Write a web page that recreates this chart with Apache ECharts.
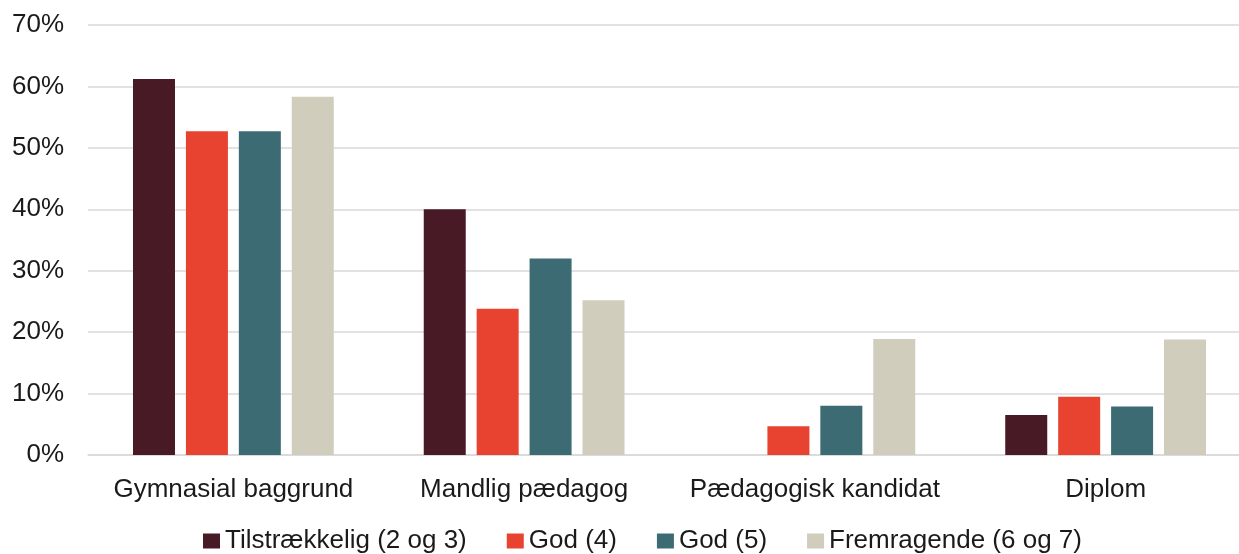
<!DOCTYPE html>
<html>
<head>
<meta charset="utf-8">
<script src="https://cdn.jsdelivr.net/npm/echarts@6/dist/echarts.min.js"></script>
<style>
html,body{margin:0;padding:0;background:#fff;overflow:hidden;}
/* plotområdet fortsætter lidt ud over højre kant som i originalen */
#chart1{width:1251px;height:554px;}
</style>
</head>
<body>
<div id="chart1"></div>
<script>
// kategorier og værdier (%)
var categories = ['Gymnasial baggrund', 'Mandlig pædagog', 'Pædagogisk kandidat', 'Diplom'];
var tilstraekkelig = [61.2, 40.0, 0, 6.5];
var god4 = [52.7, 23.8, 4.7, 9.5];
var god5 = [52.7, 32.0, 8.0, 7.9];
var fremragende = [58.3, 25.2, 18.9, 18.8];
var seriesNames = ['Tilstrækkelig (2 og 3)', 'God (4)', 'God (5)', 'Fremragende (6 og 7)'];
var colors = ['#471a26', '#e84330', '#3d6b74', '#d0cdbd'];

var chart = echarts.init(document.getElementById('chart1'));
var font = 'Liberation Sans, Arial, sans-serif';
var data = [tilstraekkelig, god4, god5, fremragende];

var option = {
    animation: false,
    color: colors,
    textStyle: { fontFamily: font },
    grid: { left: 88, right: 0, top: 25, bottom: 99 },
    legend: {
        top: 523,
        left: 198,
        itemWidth: 17,
        itemHeight: 15,
        itemGap: 40,
        icon: 'rect',
        textStyle: { fontSize: 26, color: '#1a1a1a', fontFamily: font },
        data: seriesNames
    },
    xAxis: {
        type: 'category',
        data: categories,
        axisLine: { lineStyle: { color: '#d9d9d9', width: 1.5 } },
        axisTick: { show: false },
        axisLabel: { interval: 0, fontSize: 26, color: '#1a1a1a', margin: 22, fontFamily: font }
    },
    yAxis: {
        type: 'value',
        min: 0,
        max: 70,
        interval: 10,
        axisLine: { show: false },
        axisTick: { show: false },
        splitLine: { lineStyle: { color: '#d9d9d9', width: 1.5 } },
        axisLabel: { fontSize: 26, color: '#1a1a1a', margin: 24, formatter: '{value}%', fontFamily: font }
    },
    series: []
};

for (var i = 0; i < seriesNames.length; i++) {
    option.series.push({
        name: seriesNames[i],
        type: 'bar',
        data: data[i],
        barWidth: 42,
        barGap: '26%',
        barCategoryGap: '31%'
    });
}

chart.setOption(option);
</script>
</body>
</html>
